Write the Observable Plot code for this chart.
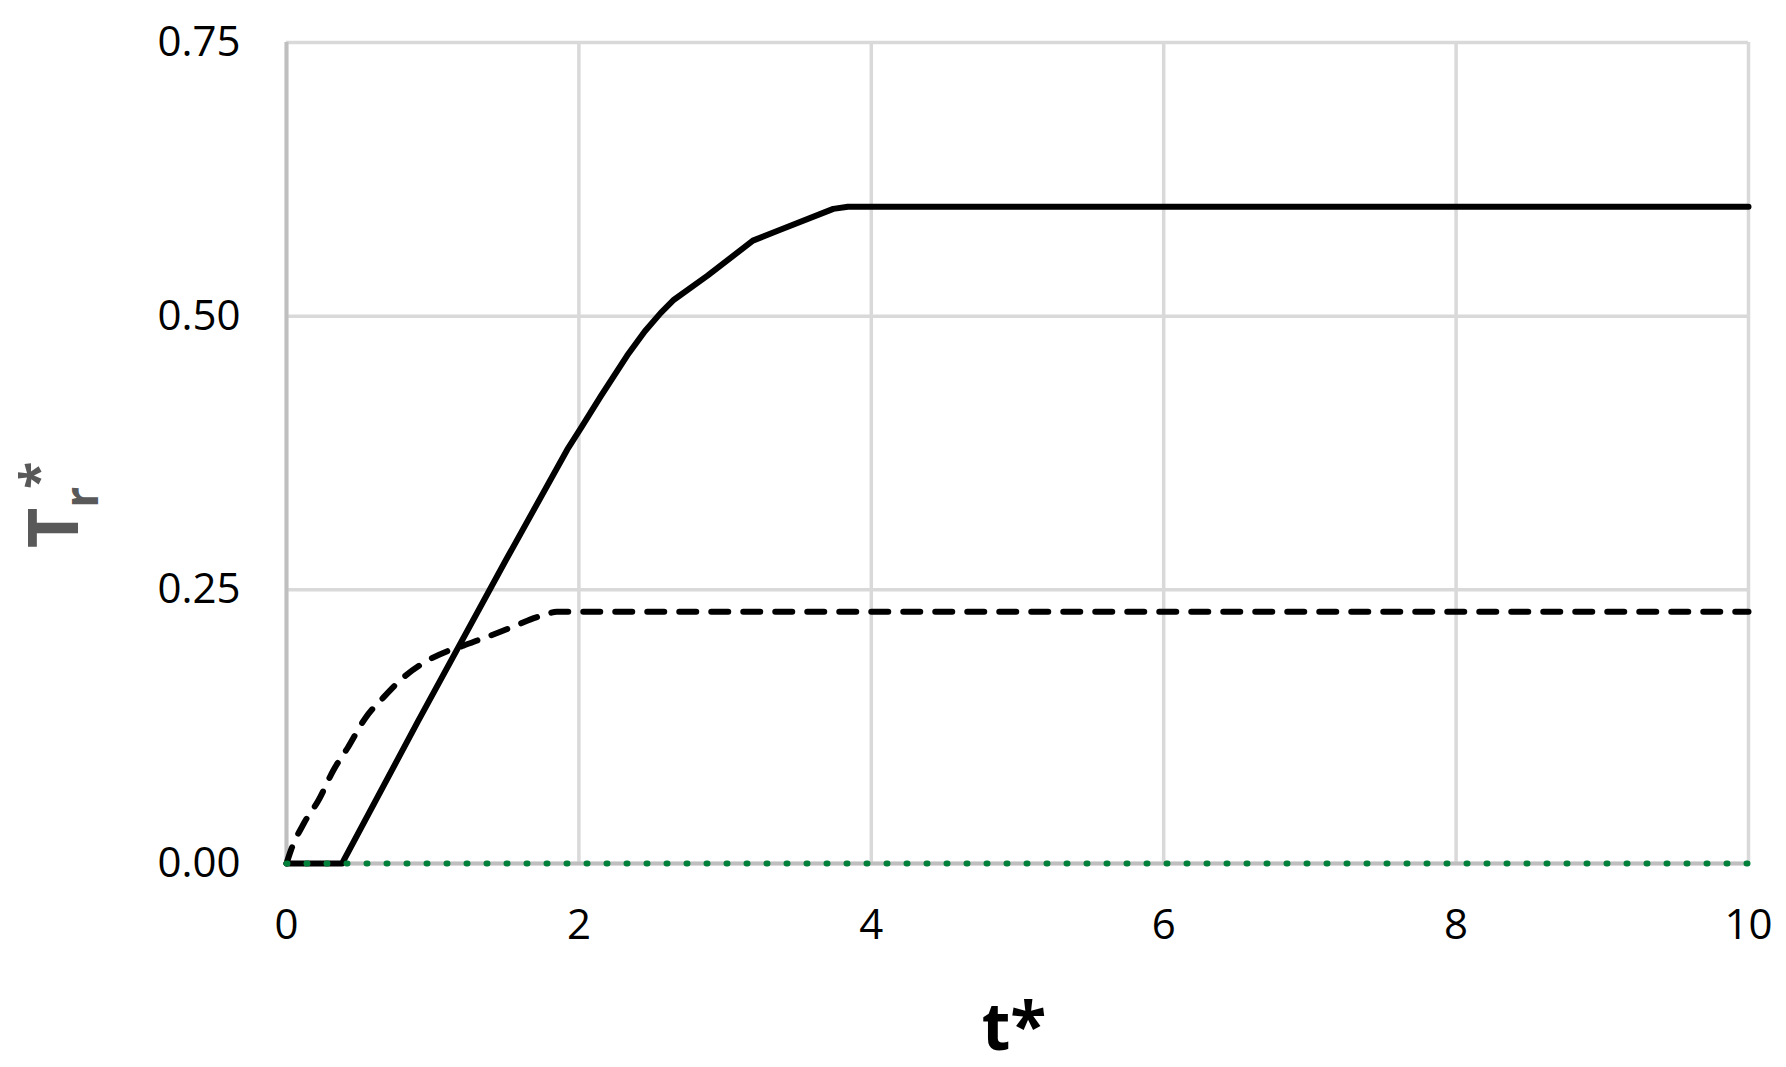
<!DOCTYPE html>
<html>
<head>
<meta charset="utf-8">
<script src="https://cdn.jsdelivr.net/npm/d3@7"></script>
<script src="https://cdn.jsdelivr.net/npm/@observablehq/plot@0.6"></script>
<style>
  html, body { margin: 0; padding: 0; background: #fff; }
  #chart svg { display: block; overflow: visible; }
</style>
</head>
<body>
<div id="chart"></div>
<script>
// ---- data ----
const xTicks = [0, 2, 4, 6, 8, 10];
const yTicks = [0, 0.25, 0.5, 0.75];

// solid curve
const tSolid = [0, 0.38, 0.9, 1.5, 1.92, 2.02, 2.15, 2.33, 2.45, 2.56, 2.65, 2.88, 3.19, 3.36, 3.74, 3.84, 10];
const rSolid = [0, 0, 0.13, 0.277, 0.378, 0.399, 0.427, 0.464, 0.486, 0.503, 0.515, 0.537, 0.569, 0.578, 0.598, 0.600, 0.600];

// dashed curve
const tDashed = [0, 0.03, 0.12, 0.22, 0.32, 0.42, 0.54, 0.665, 0.80, 0.96, 1.12, 1.21, 1.33, 1.45, 1.58, 1.67, 1.76, 1.85, 10];
const rDashed = [0, 0.012, 0.037, 0.058, 0.085, 0.106, 0.133, 0.152, 0.170, 0.185, 0.195, 0.199, 0.205, 0.211, 0.218, 0.223, 0.227, 0.23, 0.23];

// dotted (green) curve
const tDotted = [0, 10];
const rDotted = [0, 0];

const solid = tSolid.map((t, i) => ({t, r: rSolid[i]}));
const dashed = tDashed.map((t, i) => ({t, r: rDashed[i]}));
const dotted = tDotted.map((t, i) => ({t, r: rDotted[i]}));

const W = 1786, H = 1067;

const chart = Plot.plot({
  width: W,
  height: H,
  marginLeft: 286,
  marginRight: 38,
  marginTop: 42,
  marginBottom: 204,
  style: {fontFamily: "'Open Sans', sans-serif", fontSize: "42px", color: "#000", background: "#fff"},
  x: {domain: [0, 10]},
  y: {domain: [0, 0.75]},
  marks: [
    Plot.gridX(xTicks, {stroke: "#d9d9d9", strokeOpacity: 1, strokeWidth: 3.5}),
    Plot.gridY(yTicks, {stroke: "#d9d9d9", strokeOpacity: 1, strokeWidth: 3.5}),
    Plot.ruleX([0], {stroke: "#bfbfbf", strokeWidth: 4}),
    Plot.ruleY([0], {stroke: "#bfbfbf", strokeWidth: 4}),
    Plot.axisX(xTicks, {tickSize: 0, tickPadding: 46, label: null, tickFormat: d3.format("d"), fill: "#000"}),
    Plot.axisY(yTicks, {tickSize: 0, tickPadding: 46, label: null, tickFormat: d3.format(".2f"), fill: "#000"}),
    Plot.line(dashed, {x: "t", y: "r", stroke: "#000", strokeWidth: 6, strokeDasharray: "17,15", strokeLinecap: "round", curve: "monotone-x"}),
    Plot.line(solid, {x: "t", y: "r", stroke: "#000", strokeWidth: 6, strokeLinejoin: "round"}),
    Plot.line(dotted, {x: "t", y: "r", stroke: "#00803a", strokeWidth: 6, strokeDasharray: "1,19", strokeLinecap: "round"})
  ]
});

const svg = d3.select(chart);

// x axis title "t*"
svg.append("text")
  .attr("x", 1014)
  .attr("y", 1050)
  .attr("text-anchor", "middle")
  .attr("font-family", "'Open Sans', sans-serif")
  .attr("font-weight", "bold")
  .attr("font-size", 66)
  .attr("fill", "#000")
  .text("t*");

// y axis title "T_r*" rotated
const yl = svg.append("text")
  .attr("transform", "translate(78,505) rotate(-90)")
  .attr("font-family", "'Open Sans', sans-serif")
  .attr("font-weight", "bold")
  .attr("font-size", 70)
  .attr("fill", "#595959");
yl.append("tspan").text("T");
yl.append("tspan").attr("font-size", 46).attr("dy", 20).text("r");
yl.append("tspan").attr("font-size", 50).attr("dy", -42).attr("dx", -2).text("*");

document.getElementById("chart").appendChild(chart);
</script>
</body>
</html>
